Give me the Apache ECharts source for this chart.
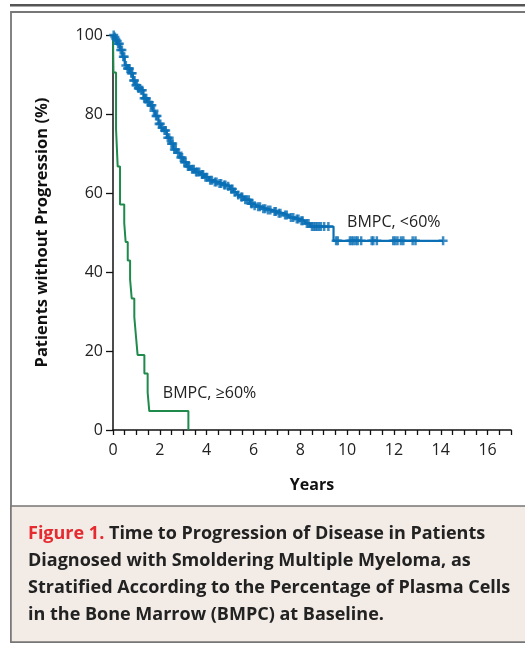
<!DOCTYPE html>
<html><head><meta charset="utf-8">
<script src="https://cdn.jsdelivr.net/npm/echarts@6/dist/echarts.min.js"></script>
<style>html,body{margin:0;padding:0;background:#fff}#c{width:525px;height:645px}</style>
</head><body><div id="c"></div>
<script>
// Blue: BMPC <60% (time in years, % without progression after that time)
var blueTimes = [0,0.05,0.1,0.15,0.2,0.3,0.4,0.5,0.6,0.73,0.85,0.94,1.05,1.15,1.3,1.45,1.58,1.7,1.8,1.94,2.05,2.15,2.3,2.45,2.58,2.72,2.85,3.0,3.15,3.3,3.5,3.72,3.9,4.1,4.29,4.5,4.7,4.86,5.0,5.14,5.3,5.43,5.6,5.85,6.0,6.14,6.35,6.57,6.8,7.0,7.28,7.5,7.75,7.99,8.2,8.42,9.42,14.1];
var blueValues = [100,99.5,99,98.5,97.8,96.2,94.5,92.3,91.5,90.3,88.5,87.3,86.5,86.0,84.0,83.0,82.2,80.8,79.5,77.5,76.5,75.8,74.0,72.5,71.0,70.2,69.0,67.8,66.7,66.0,65.3,64.7,64.0,63.2,62.8,62.4,62.0,61.7,61.0,60.2,59.5,59.0,58.3,57.3,56.8,56.5,56.0,55.7,55.3,54.9,54.4,53.8,53.4,53.0,52.3,51.5,47.9,47.9];
var blueCensored = [0.03,0.08,0.12,0.18,0.22,0.27,0.33,0.38,0.44,0.48,0.55,0.62,0.67,0.7,0.78,0.82,0.88,0.92,0.98,1.02,1.08,1.12,1.2,1.25,1.33,1.38,1.42,1.5,1.55,1.62,1.66,1.75,1.84,1.88,1.97,2.02,2.1,2.2,2.25,2.34,2.4,2.5,2.55,2.62,2.68,2.78,2.9,2.95,3.05,3.1,3.2,3.25,3.38,3.45,3.55,3.6,3.68,3.8,3.85,3.95,4.02,4.15,4.22,4.35,4.42,4.55,4.62,4.75,4.8,4.92,5.05,5.1,5.2,5.35,5.48,5.52,5.65,5.72,5.8,5.9,5.95,6.05,6.2,6.28,6.42,6.5,6.62,6.72,6.9,6.95,7.08,7.15,7.35,7.42,7.6,7.7,7.85,7.92,8.05,8.1,8.28,8.35,8.5,8.58,8.65,8.72,8.8,8.88,9.02,9.2,9.53,9.6,10.12,10.2,10.28,10.38,10.45,10.6,11.05,11.12,11.27,11.97,12.05,12.15,12.3,12.4,12.8,12.92,14.1];
// Green: BMPC >=60%
var greenTimes = [0,0.02,0.13,0.2,0.3,0.48,0.54,0.63,0.73,0.8,0.91,0.98,1.05,1.34,1.48,1.55,3.22];
var greenValues = [100,90.5,76.2,66.7,57.1,52.4,47.6,42.9,38.1,33.3,28.6,23.8,19.0,14.3,9.5,4.8,0];
var xTicks = [0,2,4,6,8,10,12,14,16];
var yTicks = [0,20,40,60,80,100];
var labelBlue = 'BMPC, <60%';
var labelGreen = 'BMPC, \u226560%';
var captionRed = 'Figure 1.';
var captionLines = [' Time to Progression of Disease in Patients','Diagnosed with Smoldering Multiple Myeloma, as','Stratified According to the Percentage of Plasma Cells','in the Bone Marrow (BMPC) at Baseline.'];

function zip(a,b){return a.map(function(v,i){return [v,b[i]];});}
function kmAt(t){var s=blueValues[0];for(var i=0;i<blueTimes.length;i++){if(blueTimes[i]<=t)s=blueValues[i];}return s;}

var FONT = '"Open Sans", "Noto Sans", sans-serif';
var BLUE = '#0a6fb5', GREEN = '#1f8a4c';
var chart = echarts.init(document.getElementById('c'));
var crossPath = 'path://M3.6,0H6.4V3.6H10V6.4H6.4V10H3.6V6.4H0V3.6H3.6Z';

chart.setOption({
  animation:false,
  backgroundColor:'#fff',
  grid:{left:113,right:14,top:35,bottom:215,containLabel:false},
  xAxis:{type:'value',min:0,max:17,interval:0.5,
    name:'Years',nameLocation:'middle',nameGap:47,
    nameTextStyle:{fontFamily:FONT,fontWeight:'bold',fontSize:16,color:'#111'},
    axisLine:{lineStyle:{color:'#111',width:1.5}},
    axisTick:{show:true,length:5,lineStyle:{color:'#111',width:1.3}},
    axisLabel:{fontFamily:FONT,fontSize:16,color:'#222',margin:12,interval:0,
      formatter:function(v){return xTicks.indexOf(v)>=0?String(v):'';}},
    splitLine:{show:false}},
  yAxis:{type:'value',min:0,max:100,interval:20,
    name:'Patients without Progression (%)',nameLocation:'middle',nameGap:62,nameRotate:90,
    nameTextStyle:{fontFamily:FONT,fontWeight:'bold',fontSize:16.5,color:'#111'},
    axisLine:{show:true,lineStyle:{color:'#111',width:1.5}},
    axisTick:{show:true,length:7,lineStyle:{color:'#111',width:1.3}},
    axisLabel:{fontFamily:FONT,fontSize:16,color:'#222',margin:10,
      formatter:function(v){return yTicks.indexOf(v)>=0?String(v):'';}},
    splitLine:{show:false}},
  series:[
    {type:'line',step:'end',data:zip(greenTimes,greenValues),symbol:'none',
      lineStyle:{color:GREEN,width:2},z:3},
    {type:'line',step:'end',data:zip(blueTimes,blueValues),symbol:'none',
      lineStyle:{color:BLUE,width:2.2},z:4},
    {type:'scatter',data:blueCensored.map(function(t){return [t,kmAt(t)];}),
      symbol:crossPath,symbolSize:9,itemStyle:{color:BLUE},z:5}
  ]
});

function px(x,y){return chart.convertToPixel({gridIndex:0},[x,y]);}
var pb = px(10.0,52.7), pg = px(2.13,9.6);
var capY = 532;
chart.setOption({graphic:[
  {type:'rect',shape:{x:10,y:4,width:515,height:2.5},style:{fill:'#555'},silent:true},
  {type:'rect',shape:{x:11,y:12,width:530,height:630},style:{fill:'none',stroke:'#777',lineWidth:1.8},silent:true},
  {type:'rect',shape:{x:11,y:506,width:530,height:136},style:{fill:'#f2ebe6',stroke:'#777',lineWidth:1.5},silent:true},
  {type:'text',left:pb[0],top:pb[1]-7,style:{text:labelBlue,font:'16px '+FONT,fill:'#222'}},
  {type:'text',left:pg[0],top:pg[1]-7,style:{text:labelGreen,font:'16px '+FONT,fill:'#222'}},
  {type:'text',left:28,top:capY-7,style:{
    text:'{r|'+captionRed+'}{b|'+captionLines[0]+'}\n{b|'+captionLines[1]+'}\n{b|'+captionLines[2]+'}\n{b|'+captionLines[3]+'}',
    rich:{r:{fontFamily:FONT,fontWeight:'bold',fontSize:18,fill:'#e52a30',lineHeight:27},
          b:{fontFamily:FONT,fontWeight:'bold',fontSize:18,fill:'#222',lineHeight:27}}}}
]});
</script></body></html>
